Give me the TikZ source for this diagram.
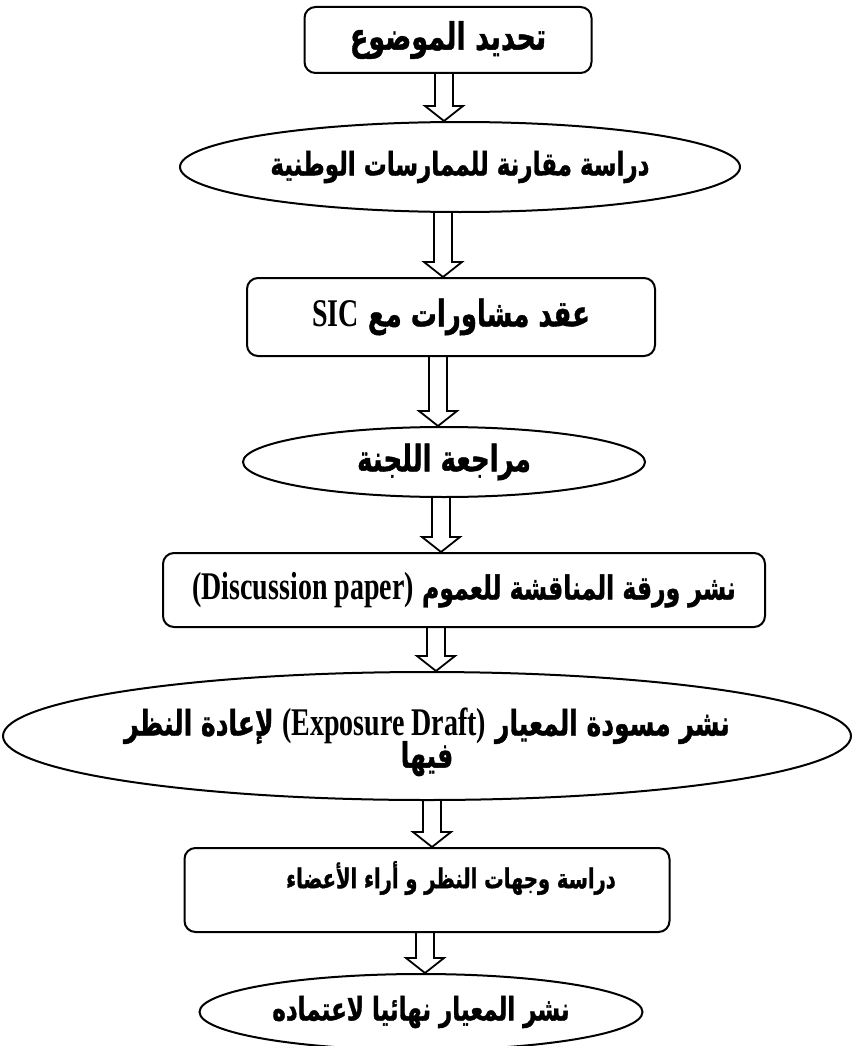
\documentclass[tikz,border=0pt]{standalone}
\usepackage{fontspec}
\usepackage{graphicx}
\usetikzlibrary{shapes.geometric,calc}
\TeXXeTstate=1
\newfontfamily\arabicfont[Script=Arabic, BoldFeatures={FakeBold=1.3}]{DejaVu Sans}
\newfontfamily\latinfont{Liberation Serif}
% right-to-left Arabic run, left-to-right Latin run inside it
\newcommand{\ar}[1]{\beginR#1\endR}
\newcommand{\lt}[1]{\beginL{\latinfont\bfseries #1}\endL}
\newcommand{\fs}[1]{\fontsize{#1}{1.2\dimexpr#1pt\relax}\selectfont}
% the lettering is drawn tall and narrow
\newcommand{\tall}[1]{\scalebox{1}[1.4]{#1}}
\pgfdeclarelayer{background}
\pgfsetlayers{background,main}

\tikzset{
  stage/.style={draw=black, line width=2pt, rounded corners=11pt, inner sep=0pt},
  oval/.style={draw=black, line width=2pt, ellipse, inner sep=0pt},
  caption/.style={inner sep=0pt, align=center},
  flow/.style={draw=black, line width=1.8pt, fill=white, line join=miter},
}

% hollow block arrow from the bottom of #1 to the top of #2, on the vertical x=#3
\newcommand{\flowarrow}[3]{%
  \coordinate (ax) at (#3,0);
  \begin{pgfonlayer}{background}
  \draw[flow] ($(#1.south -| ax)+(-9,0)$) -- ($(#2.north -| ax)+(-9,-15)$)
    -- ($(#2.north -| ax)+(-19,-15)$) -- (#2.north -| ax)
    -- ($(#2.north -| ax)+(19,-15)$) -- ($(#2.north -| ax)+(9,-15)$)
    -- ($(#1.south -| ax)+(9,0)$);
  \end{pgfonlayer}
}

\begin{document}
\begin{tikzpicture}[x=1pt,y=-1pt]
\useasboundingbox (0,0) rectangle (854,1046);
\clip (0,0) rectangle (854,1046);

\node[stage, minimum width=287pt, minimum height=66pt,
      font=\arabicfont\bfseries\fs{27}] (topic) at (448,40)
  {\tall{\ar{تحديد الموضوع}}};

\node[oval, minimum width=560pt, minimum height=90pt,
      font=\arabicfont\bfseries\fs{23}] (compare) at (460,167)
  {\tall{\ar{دراسة مقارنة للممارسات الوطنية}}};

\node[stage, minimum width=408pt, minimum height=78pt,
      font=\arabicfont\bfseries\fs{26}] (consult) at (451,317)
  {\tall{\ar{عقد مشاورات مع {\fs{28}\lt{SIC}}}}};

\node[oval, minimum width=402pt, minimum height=70pt,
      font=\arabicfont\bfseries\fs{26}] (review) at (444,462)
  {\tall{\ar{مراجعة اللجنة}}};

\node[stage, minimum width=602pt, minimum height=74pt,
      font=\arabicfont\bfseries\fs{23.5}] (paper) at (464,590)
  {\tall{\ar{نشر ورقة المناقشة للعموم {\fs{28}\lt{(Discussion paper)}}}}};

\node[oval, minimum width=848pt, minimum height=128pt] (draft) at (427,736) {};
\node[caption, font=\arabicfont\bfseries\fs{25}] (draft-text)
  at ($(draft.center)+(0,6)$)
  {\tall{\ar{نشر مسودة المعيار {\fs{28}\lt{(Exposure Draft)}} لإعادة النظر}}\\[-4pt]
   \tall{\ar{فيها}}};

\node[stage, minimum width=485pt, minimum height=84pt] (views) at (427,890) {};
\node[caption, font=\arabicfont\bfseries\fs{19.5}] (views-text)
  at ($(views.center)+(24,-12)$) {\tall{\ar{دراسة وجهات النظر و أراء الأعضاء}}};

\node[oval, minimum width=443pt, minimum height=76pt,
      font=\arabicfont\bfseries\fs{23}] (final) at (421,1012)
  {\tall{\ar{نشر المعيار نهائيا لاعتماده}}};

\flowarrow{topic}{compare}{444}
\flowarrow{compare}{consult}{443}
\flowarrow{consult}{review}{438}
\flowarrow{review}{paper}{441}
\flowarrow{paper}{draft}{436}
\flowarrow{draft}{views}{432}
\flowarrow{views}{final}{425}
\end{tikzpicture}
\end{document}
